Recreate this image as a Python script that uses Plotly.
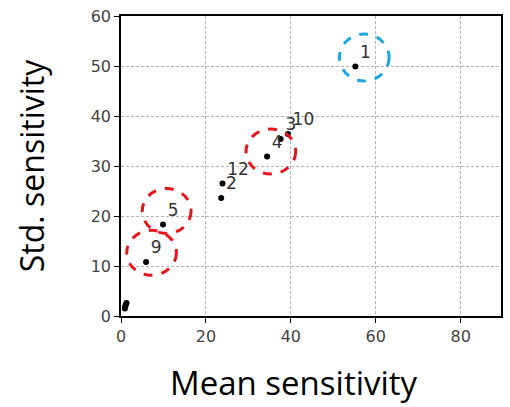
import plotly.graph_objects as go

# data
labels = ["1", "2", "3", "4", "5", "6", "7", "8", "9", "10", "11", "12"]
mean_sens = [55.2, 23.6, 37.6, 34.4, 9.9, 1.3, 1.1, 0.9, 5.9, 39.3, 1.0, 23.9]
std_sens = [49.9, 23.6, 35.4, 31.9, 18.3, 2.6, 2.2, 1.5, 10.8, 36.4, 1.9, 26.5]
shown_labels = ["1", "2", "3", "4", "5", "", "", "", "9", "10", "", "12"]

x_title = "Mean sensitivity"
y_title = "Std. sensitivity"

# highlight circles (center x, center y, radius x, radius y, colour)
circle_cx = [10.75, 7.2, 35.3, 57.3]
circle_cy = [21.0, 12.65, 32.9, 51.7]
circle_rx = [5.75, 5.85, 5.85, 5.85]
circle_ry = [4.5, 4.5, 4.5, 4.7]
circle_col = ["#e8141b", "#e8141b", "#e8141b", "#1aa7e0"]

x_ticks = [0, 20, 40, 60, 80]
y_ticks = [0, 10, 20, 30, 40, 50, 60]

fig = go.Figure()
fig.add_trace(go.Scatter(
    x=mean_sens, y=std_sens, mode="markers+text",
    text=shown_labels, textposition="top right",
    textfont=dict(family="DejaVu Sans", size=17, color="#333333"),
    marker=dict(color="black", size=6),
    showlegend=False, cliponaxis=False,
))

for cx, cy, rx, ry, col in zip(circle_cx, circle_cy, circle_rx, circle_ry, circle_col):
    fig.add_shape(type="circle", xref="x", yref="y",
                  x0=cx - rx, x1=cx + rx, y0=cy - ry, y1=cy + ry,
                  line=dict(color=col, width=3, dash="dash"))

axis_common = dict(
    showline=True, linecolor="black", linewidth=1.5, mirror=True,
    ticks="outside", ticklen=5, tickcolor="black",
    showgrid=True, gridcolor="#b5b5b5", griddash="3px,2px", gridwidth=1,
    zeroline=False,
    tickfont=dict(family="DejaVu Sans", size=16, color="#444444"),
)

fig.update_xaxes(range=[0, 89.5], tickvals=x_ticks, **axis_common)
fig.update_yaxes(range=[0, 60], tickvals=y_ticks,
                 title=dict(text=y_title,
                            font=dict(family="Open Sans", size=32, color="black"),
                            standoff=36),
                 **axis_common)

fig.add_annotation(text=x_title, xref="paper", yref="paper",
                   x=0.455, y=-0.222, xanchor="center", yanchor="middle",
                   showarrow=False,
                   font=dict(family="Open Sans", size=33, color="black"))

fig.update_layout(
    width=510, height=407,
    margin=dict(l=121, r=7, t=15, b=91),
    paper_bgcolor="white", plot_bgcolor="white",
)

fig.write_html("out.html")
